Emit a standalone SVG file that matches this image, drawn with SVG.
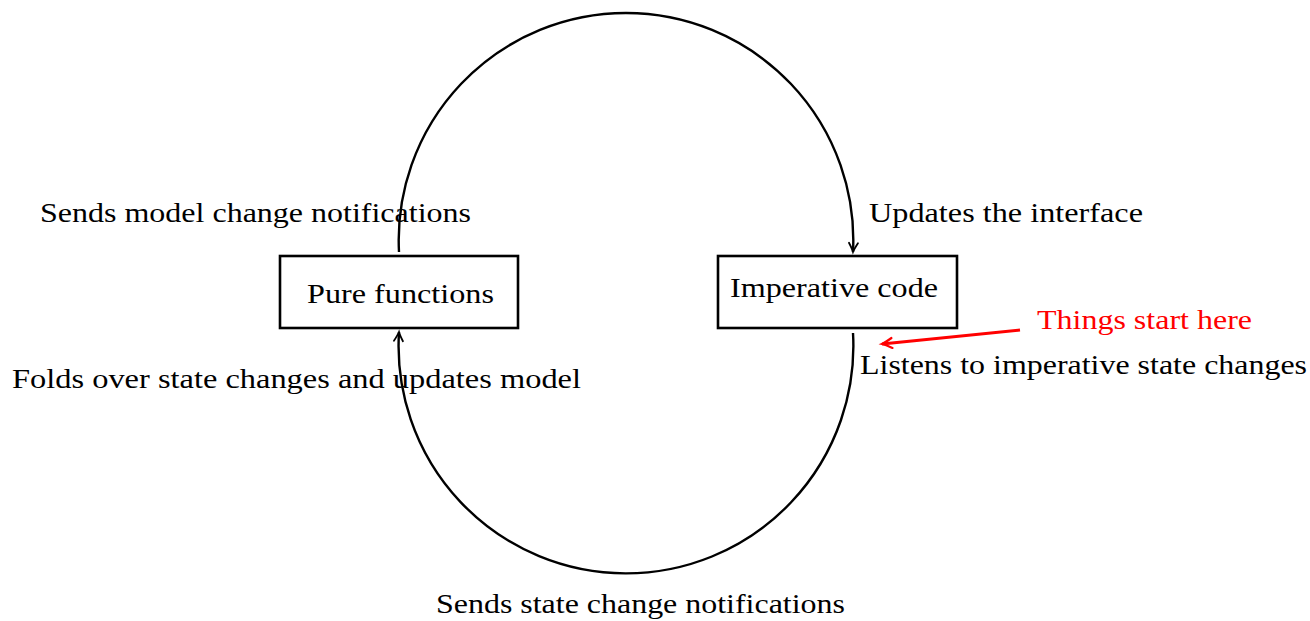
<svg xmlns="http://www.w3.org/2000/svg" width="1310" height="621" viewBox="0 0 1310 621">
<style>
.lbl{font-family:"Liberation Serif","Times New Roman",serif;font-size:27px;fill:#000}
.red{fill:#ff0000}
.box{fill:#fff;stroke:#000;stroke-width:2.6}
.arc{fill:none;stroke:#000;stroke-width:2.4}
</style>
<defs>
<marker id="ah" markerUnits="userSpaceOnUse" markerWidth="14" markerHeight="14" refX="0" refY="0" viewBox="-10 -7 12 14" orient="auto" overflow="visible">
<path d="M-9,-4.5 Q-3,-1 0,0 Q-3,1 -9,4.5" fill="none" stroke="#000" stroke-width="1.8" stroke-linecap="round"/>
</marker>
<marker id="ahr" markerUnits="userSpaceOnUse" markerWidth="14" markerHeight="14" refX="0" refY="0" viewBox="-10 -7 12 14" orient="auto" overflow="visible">
<path d="M-10,-5 Q-3,-1 0,0 Q-3,1 -10,5" fill="none" stroke="#ff0000" stroke-width="2.2" stroke-linecap="round"/>
</marker>
</defs>
<rect width="1310" height="621" fill="#fff"/>
<g id="connectors">
<path class="arc" d="M399,252 A227.3,227.3 0 1 1 853,252" marker-end="url(#ah)"/>
<path class="arc" d="M853,333 A227.4,227.4 0 1 1 399,332" marker-end="url(#ah)"/>
<line x1="1020" y1="330" x2="882" y2="344" stroke="#ff0000" stroke-width="3" marker-end="url(#ahr)"/>
</g>
<g id="pure">
<rect class="box" x="280" y="256" width="238" height="72"/>
<text class="lbl" x="307" y="303" textLength="187" lengthAdjust="spacingAndGlyphs">Pure functions</text>
</g>
<g id="imperative">
<rect class="box" x="718" y="256" width="239" height="72"/>
<text class="lbl" x="730" y="297" textLength="208" lengthAdjust="spacingAndGlyphs">Imperative code</text>
</g>
<g id="labels">
<text class="lbl" x="40" y="222" textLength="431" lengthAdjust="spacingAndGlyphs">Sends model change notifications</text>
<text class="lbl" x="869" y="222" textLength="274" lengthAdjust="spacingAndGlyphs">Updates the interface</text>
<text class="lbl red" x="1037" y="329" textLength="215" lengthAdjust="spacingAndGlyphs">Things start here</text>
<text class="lbl" x="860" y="374" textLength="447" lengthAdjust="spacingAndGlyphs">Listens to imperative state changes</text>
<text class="lbl" x="12" y="388" textLength="569" lengthAdjust="spacingAndGlyphs">Folds over state changes and updates model</text>
<text class="lbl" x="436" y="613" textLength="409" lengthAdjust="spacingAndGlyphs">Sends state change notifications</text>
</g>
</svg>
